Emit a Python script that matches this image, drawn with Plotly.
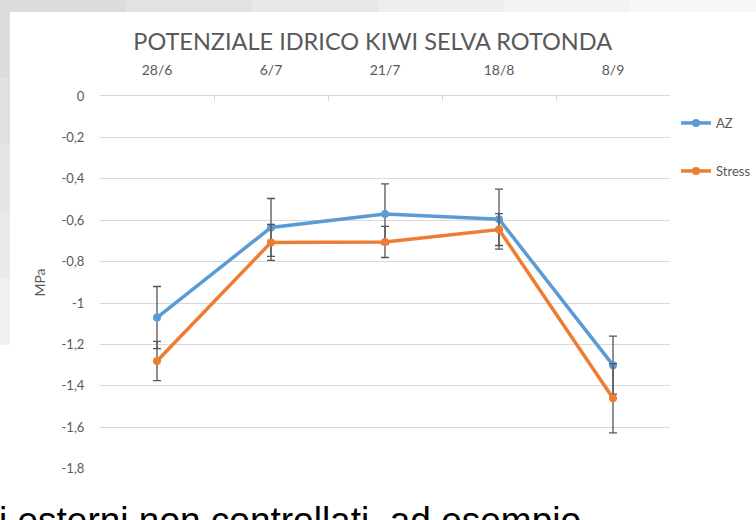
import plotly.graph_objects as go

categories = ["28/6", "6/7", "21/7", "18/8", "8/9"]
az_values = [-1.07, -0.635, -0.57, -0.595, -1.30]
az_errors = [0.15, 0.14, 0.146, 0.145, 0.14]
stress_values = [-1.28, -0.707, -0.705, -0.645, -1.46]
stress_errors = [0.095, 0.087, 0.075, 0.077, 0.167]
y_tick_values = [0, -0.2, -0.4, -0.6, -0.8, -1.0, -1.2, -1.4, -1.6, -1.8]
y_tick_labels = ["0", "-0,2", "-0,4", "-0,6", "-0,8", "-1", "-1,2", "-1,4", "-1,6", "-1,8"]

W, H = 756, 520
L, R, T, B = 100, 86, 96, 51
PW, PH = W - L - R, H - T - B


def px(x):
    return (x - L) / PW


def py(y):
    return (H - B - y) / PH


GRAY = "#595959"
GRID = "#d9d9d9"

fig = go.Figure()
fig.add_trace(go.Scatter(
    x=categories, y=az_values, name="AZ", mode="lines+markers",
    line=dict(color="#5b9bd5", width=3.5), marker=dict(size=8, color="#5b9bd5"),
    error_y=dict(type="data", array=az_errors, color="#555555", thickness=1.3, width=4),
    legend="legend",
))
fig.add_trace(go.Scatter(
    x=categories, y=stress_values, name="Stress", mode="lines+markers",
    line=dict(color="#ed7d31", width=3.5), marker=dict(size=8, color="#ed7d31"),
    error_y=dict(type="data", array=stress_errors, color="#555555", thickness=1.3, width=4),
    legend="legend2",
))

shapes = []
# slide background gradient pieces (top band and left band)
top_cols = ["#dcdcdc", "#e2e2e2", "#e8e8e8", "#eeeeee", "#f3f3f3", "#f8f8f8"]
n = len(top_cols)
for i, c in enumerate(top_cols):
    x0 = i * W / n
    x1 = (i + 1) * W / n
    shapes.append(dict(type="rect", xref="paper", yref="paper", x0=px(x0), x1=px(x1),
                       y0=py(12), y1=py(0), fillcolor=c, line_width=0, layer="below"))
left_cols = ["#dcdcdc", "#e0e0e0", "#e5e5e5", "#eaeaea", "#f0f0f0"]
m = len(left_cols)
for i, c in enumerate(left_cols):
    y0 = 12 + i * (345 - 12) / m
    y1 = 12 + (i + 1) * (345 - 12) / m
    shapes.append(dict(type="rect", xref="paper", yref="paper", x0=px(0), x1=px(10),
                       y0=py(y1), y1=py(y0), fillcolor=c, line_width=0, layer="below"))

fig.update_layout(
    width=W, height=H,
    margin=dict(l=L, r=R, t=T, b=B, autoexpand=False),
    paper_bgcolor="white", plot_bgcolor="white",
    font=dict(family="Lato, Open Sans, sans-serif", color=GRAY, size=12),
    title=dict(text="POTENZIALE IDRICO KIWI SELVA ROTONDA", x=px(381), xanchor="center",
               y=1 - 42 / H, yanchor="middle", font=dict(size=23.5, color=GRAY, family="Lato")),
    xaxis=dict(side="top", type="category", range=[-0.5, 4.5], showgrid=False, automargin=False,
               showline=True, linecolor=GRID, linewidth=1, ticks="inside", tickson="boundaries",
               ticklen=5, tickcolor=GRID, tickfont=dict(size=14, color=GRAY), zeroline=False,
               ticklabelstandoff=14),
    yaxis=dict(range=[-1.8015, 0], tickvals=y_tick_values, ticktext=y_tick_labels,
               automargin=False,
               showgrid=True, gridcolor=GRID, gridwidth=1, zeroline=False, showline=False,
               ticks="outside", ticklen=12, tickcolor="rgba(0,0,0,0)",
               tickfont=dict(size=13, color=GRAY),
               title=dict(text="MPa", font=dict(size=14, color=GRAY), standoff=12)),
    legend=dict(x=px(676), xanchor="left", y=py(123), yanchor="middle",
                font=dict(size=13, color=GRAY), bgcolor="rgba(0,0,0,0)"),
    legend2=dict(x=px(676), xanchor="left", y=py(171), yanchor="middle",
                 font=dict(size=13, color=GRAY), bgcolor="rgba(0,0,0,0)"),
    shapes=shapes,
    annotations=[dict(text="i esterni non controllati, ad esempio", xref="paper", yref="paper",
                      x=px(-3), xanchor="left", y=py(543), yanchor="bottom", showarrow=False,
                      font=dict(size=37, color="#000000", family="Liberation Sans"))],
    showlegend=True,
)

fig.write_html("out.html", config={"displayModeBar": False},
               post_script="document.body.style.margin='0';")
